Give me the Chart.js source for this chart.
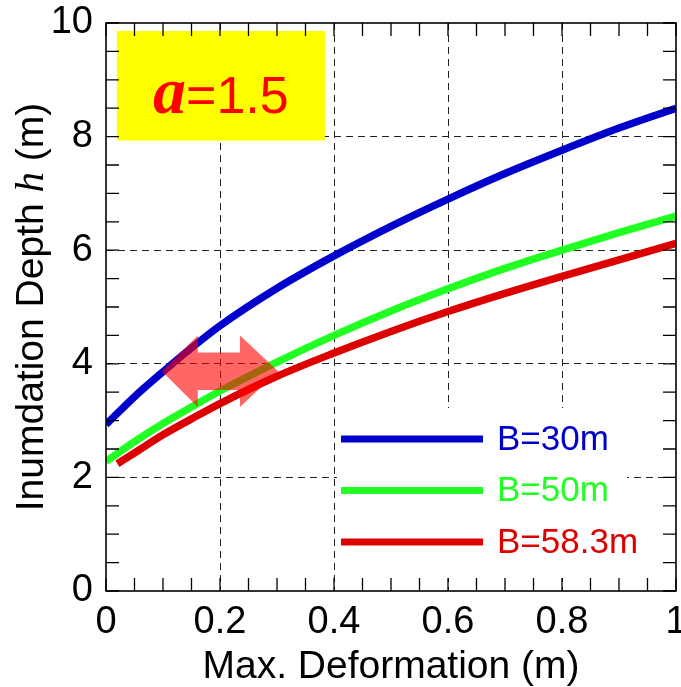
<!DOCTYPE html>
<html>
<head>
<meta charset="utf-8">
<script src="https://cdn.jsdelivr.net/npm/chart.js@4"></script>
<style>
html,body{margin:0;padding:0;background:#fff;}
</style>
</head>
<body>
<canvas id="chart" width="681" height="687"></canvas>
<script>
// max deformation (m) and inundation depth (m)
const deform = [0, 0.05, 0.1, 0.15, 0.2, 0.3, 0.4, 0.5, 0.6, 0.7, 0.8, 0.9, 1.0];
const deformRed = [0.02, 0.05, 0.1, 0.15, 0.2, 0.3, 0.4, 0.5, 0.6, 0.7, 0.8, 0.9, 1.0];
const depthB30 = [2.93, 3.42, 3.86, 4.28, 4.67, 5.33, 5.9, 6.42, 6.9, 7.35, 7.76, 8.15, 8.5];
const depthB50 = [2.28, 2.63, 2.95, 3.24, 3.52, 4.03, 4.5, 4.93, 5.32, 5.68, 6.0, 6.31, 6.6];
const depthB583 = [2.24, 2.43, 2.75, 3.03, 3.3, 3.78, 4.19, 4.57, 4.92, 5.24, 5.54, 5.83, 6.12];
const seriesLabels = ['B=30m', 'B=50m', 'B=58.3m'];
const seriesColors = ['#0000cc', '#22ff22', '#dd0000'];
const xTickLabels = ['0', '0.2', '0.4', '0.6', '0.8', '1'];
const yTickLabels = ['0', '2', '4', '6', '8', '10'];

// label box "a=1.5" and the double arrow, in data units
const alphaText = ['a', '=1.5'];
const boxX = [0.019, 0.384];
const boxY = [7.93, 9.86];
const arrowX = [0.098, 0.161, 0.235, 0.302];
const arrowY = 3.87;
const arrowHead = 0.63;
const arrowShaft = 0.33;

const FAM = "'Liberation Sans', Arial, sans-serif";

function labelFor(v, list){
    for (const l of list){
        if (Math.abs(Number(l) - v) < 1e-6) return l;
    }
    return '';
}
function isInnerMajor(v, list){
    const l = labelFor(v, list);
    return l !== '' && l !== list[0] && l !== list[list.length-1];
}
function px(chart, x, y){
    return [chart.scales.x.getPixelForValue(x), chart.scales.y.getPixelForValue(y)];
}

const decor = {
    id: 'decor',
    beforeDatasetsDraw(chart){
        const ctx = chart.ctx, a = chart.chartArea;
        ctx.save();
        // yellow box
        const [x1, y1] = px(chart, boxX[0], boxY[1]);
        const [x2, y2] = px(chart, boxX[1], boxY[0]);
        ctx.fillStyle = '#ffff00';
        ctx.fillRect(x1, y1, x2 - x1, y2 - y1);
        ctx.fillStyle = '#ff0000';
        ctx.textBaseline = 'alphabetic';
        const f1 = "italic bold 66px 'Liberation Serif', 'Times New Roman', serif";
        const f2 = "52px " + FAM;
        ctx.font = f1; const w1 = ctx.measureText(alphaText[0]).width;
        ctx.font = f2; const w2 = ctx.measureText(alphaText[1]).width;
        let tx = (x1 + x2) / 2 - (w1 + w2) / 2;
        const ty = y2 - 28;
        ctx.font = f1; ctx.fillText(alphaText[0], tx, ty);
        ctx.font = f2; ctx.fillText(alphaText[1], tx + w1, ty);
        // legend background
        ctx.fillStyle = '#fff';
        ctx.fillRect(a.left + 231, a.top + 385, 290, 170);
        ctx.restore();
    },
    afterDatasetsDraw(chart){
        const ctx = chart.ctx, a = chart.chartArea;
        ctx.save();
        // double arrow
        const pts = [
            [arrowX[0], arrowY],
            [arrowX[1], arrowY + arrowHead],
            [arrowX[1], arrowY + arrowShaft],
            [arrowX[2], arrowY + arrowShaft],
            [arrowX[2], arrowY + arrowHead],
            [arrowX[3], arrowY],
            [arrowX[2], arrowY - arrowHead],
            [arrowX[2], arrowY - arrowShaft],
            [arrowX[1], arrowY - arrowShaft],
            [arrowX[1], arrowY - arrowHead]
        ];
        ctx.beginPath();
        pts.forEach((p, i) => {
            const [X, Y] = px(chart, p[0], p[1]);
            if (i == 0) ctx.moveTo(X, Y); else ctx.lineTo(X, Y);
        });
        ctx.closePath();
        ctx.fillStyle = 'rgba(255,0,0,0.6)';
        ctx.fill();

        // inward ticks on all four sides
        ctx.strokeStyle = '#000';
        ctx.lineWidth = 1.3;
        ctx.beginPath();
        chart.scales.x.ticks.forEach(t => {
            const X = chart.scales.x.getPixelForValue(t.value);
            ctx.moveTo(X, a.bottom); ctx.lineTo(X, a.bottom - 13);
            ctx.moveTo(X, a.top); ctx.lineTo(X, a.top + 13);
        });
        chart.scales.y.ticks.forEach(t => {
            const Y = chart.scales.y.getPixelForValue(t.value);
            ctx.moveTo(a.left, Y); ctx.lineTo(a.left + 13, Y);
            ctx.moveTo(a.right, Y); ctx.lineTo(a.right - 13, Y);
        });
        ctx.stroke();
        ctx.lineWidth = 1.6;
        ctx.strokeRect(a.left, a.top, a.right - a.left, a.bottom - a.top);

        // legend
        ctx.font = "35px " + FAM;
        ctx.textBaseline = 'middle';
        chart.data.datasets.forEach((ds, i) => {
            const Y = a.top + 416 + i * 51.5;
            ctx.strokeStyle = ds.borderColor;
            ctx.lineWidth = 7;
            ctx.beginPath();
            ctx.moveTo(a.left + 235, Y); ctx.lineTo(a.left + 377, Y);
            ctx.stroke();
            ctx.fillStyle = ds.borderColor;
            ctx.fillText(ds.label, a.left + 391, Y + 1);
        });

        // y title with italic h
        const parts = [['Inumdation Depth ', "39px " + FAM], ['h', "italic 41px 'Liberation Serif', serif"], [' (m)', "39px " + FAM]];
        let total = 0;
        parts.forEach(p => { ctx.font = p[1]; total += ctx.measureText(p[0]).width; });
        ctx.translate(43, (a.top + a.bottom) / 2);
        ctx.rotate(-Math.PI / 2);
        ctx.fillStyle = '#000';
        ctx.textBaseline = 'alphabetic';
        let cx = -total / 2;
        parts.forEach(p => { ctx.font = p[1]; ctx.fillText(p[0], cx, 0); cx += ctx.measureText(p[0]).width; });
        ctx.restore();
    }
};

const datasets = [
    {label: seriesLabels[0], data: deform.map((x, i) => ({x: x, y: depthB30[i]})), borderColor: seriesColors[0]},
    {label: seriesLabels[1], data: deform.map((x, i) => ({x: x, y: depthB50[i]})), borderColor: seriesColors[1]},
    {label: seriesLabels[2], data: deformRed.map((x, i) => ({x: x, y: depthB583[i]})), borderColor: seriesColors[2]}
];

new Chart(document.getElementById('chart'), {
    type: 'line',
    data: {datasets: datasets},
    options: {
        responsive: false,
        animation: false,
        layout: {padding: {left: 0, right: 5, top: 23, bottom: 0}},
        plugins: {legend: {display: false}, tooltip: {enabled: false}},
        elements: {
            point: {radius: 0},
            line: {borderWidth: 7.5, fill: false, cubicInterpolationMode: 'monotone'}
        },
        scales: {
            x: {
                type: 'linear', min: 0, max: 1,
                ticks: {
                    stepSize: 0.05, autoSkip: false, maxRotation: 0, padding: 9, color: '#000',
                    font: {family: FAM, size: 38},
                    callback: v => labelFor(v, xTickLabels)
                },
                grid: {
                    drawTicks: false, lineWidth: 1,
                    color: c => (c.tick && isInnerMajor(c.tick.value, xTickLabels)) ? '#222' : 'rgba(0,0,0,0)'
                },
                border: {display: false, dash: [7, 5]},
                title: {display: true, text: 'Max. Deformation (m)', color: '#000', padding: 0,
                        font: {family: FAM, size: 39, lineHeight: 1}},
                afterFit(s){ s.height = 96; s.paddingLeft = 0; s.paddingRight = 0; }
            },
            y: {
                min: 0, max: 10,
                ticks: {
                    stepSize: 0.5, autoSkip: false, padding: 13, color: '#000',
                    font: {family: FAM, size: 38},
                    callback: v => labelFor(v, yTickLabels)
                },
                grid: {
                    drawTicks: false, lineWidth: 1,
                    color: c => (c.tick && isInnerMajor(c.tick.value, yTickLabels)) ? '#222' : 'rgba(0,0,0,0)'
                },
                border: {display: false, dash: [7, 5]},
                afterFit(s){ s.width = 106; s.paddingTop = 0; s.paddingBottom = 0; }
            }
        }
    },
    plugins: [decor]
});
</script>
</body>
</html>
